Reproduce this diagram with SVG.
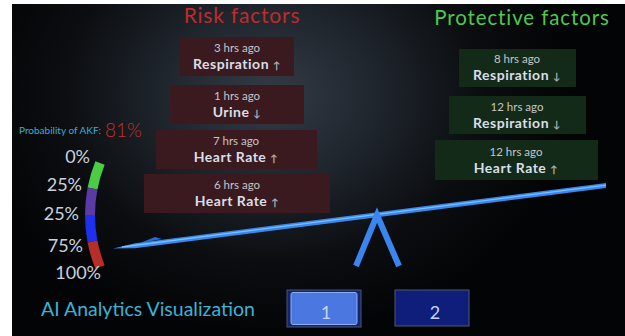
<svg xmlns="http://www.w3.org/2000/svg" width="625" height="336" viewBox="0 0 625 336">
<defs>
<radialGradient id="bg" gradientUnits="userSpaceOnUse" cx="270" cy="95" r="300" gradientTransform="translate(270 95) scale(1 0.8) translate(-270 -95)">
<stop offset="0" stop-color="#333b46"/>
<stop offset="0.35" stop-color="#20262e"/>
<stop offset="0.7" stop-color="#0b0d10"/>
<stop offset="1" stop-color="#030405"/>
</radialGradient>
<style>
.t{font-family:Lato,"Noto Sans","DejaVu Sans",sans-serif}
.rb{fill:#3a1a1e}
.pb{fill:#142a18}
.ago{font-size:11.5px;fill:#c4c6ca;text-anchor:middle}
.nm{font-size:14px;font-weight:bold;fill:#d8dfe8;text-anchor:middle;letter-spacing:0.5px}
.ar{font-size:10px;fill:#aab2ba}
.pct{font-size:18px;fill:#c8d2de;text-anchor:end}
.seg{fill:none;stroke-width:10}
.btn{font-size:18px;fill:#c6d4f4;text-anchor:middle}
</style>
</defs>
<rect x="0" y="0" width="625" height="336" fill="#ffffff"/>
<rect x="12" y="4" width="613" height="332" fill="url(#bg)"/>

<g id="title-risk"><text class="t" x="242" y="23" font-size="21" fill="#c22a2a" text-anchor="middle" letter-spacing="0.8">Risk factors</text></g>
<g id="title-protective"><text class="t" x="522" y="25" font-size="20.5" fill="#4ec94a" text-anchor="middle" letter-spacing="0.9">Protective factors</text></g>

<g id="risk-1"><rect class="rb" x="180" y="37" width="114" height="39"/>
<text class="t ago" x="237" y="52">3 hrs ago</text>
<text class="t nm" x="237" y="69">Respiration <tspan class="ar">↑</tspan></text></g>
<g id="risk-2"><rect class="rb" x="170" y="85" width="134" height="39"/>
<text class="t ago" x="237" y="100">1 hrs ago</text>
<text class="t nm" x="237" y="117">Urine <tspan class="ar">↓</tspan></text></g>
<g id="risk-3"><rect class="rb" x="156" y="130" width="161" height="39"/>
<text class="t ago" x="236" y="145">7 hrs ago</text>
<text class="t nm" x="236" y="162">Heart Rate <tspan class="ar">↑</tspan></text></g>
<g id="risk-4"><rect class="rb" x="144" y="174" width="186" height="39"/>
<text class="t ago" x="237" y="189">6 hrs ago</text>
<text class="t nm" x="237" y="206">Heart Rate <tspan class="ar">↑</tspan></text></g>

<g id="prot-1"><rect class="pb" x="459" y="49" width="117" height="38"/>
<text class="t ago" x="517" y="63">8 hrs ago</text>
<text class="t nm" x="517" y="80">Respiration <tspan class="ar">↓</tspan></text></g>
<g id="prot-2"><rect class="pb" x="449" y="96" width="137" height="38"/>
<text class="t ago" x="517" y="111">12 hrs ago</text>
<text class="t nm" x="517" y="128">Respiration <tspan class="ar">↓</tspan></text></g>
<g id="prot-3"><rect class="pb" x="435" y="140" width="163" height="40"/>
<text class="t ago" x="516" y="156">12 hrs ago</text>
<text class="t nm" x="516" y="173">Heart Rate <tspan class="ar">↑</tspan></text></g>

<g id="probability"><text class="t" x="19" y="134" font-size="10" fill="#3aaed0">Probability of AKF:</text>
<text class="t" x="105" y="137" font-size="19" font-weight="300" fill="#c4302c">81%</text></g>

<g id="gauge">
<path class="seg" stroke="#4ccb44" d="M100 163 A140 140 0 0 0 92.5 188.5"/>
<path class="seg" stroke="#5b3aa6" d="M92.5 188.5 A140 140 0 0 0 90 215"/>
<path class="seg" stroke="#1c30ee" d="M90 215 A140 140 0 0 0 92.5 241.5"/>
<path class="seg" stroke="#b52e28" d="M92.5 241.5 A140 140 0 0 0 100 267"/>
<text class="t pct" x="90" y="163">0%</text>
<text class="t pct" x="82" y="191">25%</text>
<text class="t pct" x="79" y="220">25%</text>
<text class="t pct" x="83" y="252">75%</text>
<text class="t pct" x="101" y="279">100%</text>
</g>

<g id="seesaw">
<polygon points="140,243 155,237 162,239" fill="#2a6ad8"/>
<polygon points="113,248.5 135,243.3 606,183 606,188 135,248.3" fill="#3a88ee"/>
<line x1="122" y1="247" x2="606" y2="185.2" stroke="#7cc0ff" stroke-width="1.3"/>
<path d="M356 266 L377 215 L399 266" fill="none" stroke="#3a86f0" stroke-width="6" stroke-linejoin="miter"/>
</g>

<g id="caption"><text class="t" x="41" y="316" font-size="19.5" fill="#3cb2d6">AI Analytics Visualization</text></g>

<g id="button-1">
<rect x="287" y="290" width="74" height="37" fill="#14246e" stroke="#4a5470" stroke-width="1"/>
<rect x="291" y="292.5" width="66" height="32" rx="2" fill="#4a78e0" stroke="#8eaaf0" stroke-width="1"/>
<text class="t btn" x="326" y="319">1</text>
</g>
<g id="button-2">
<rect x="395" y="290" width="74" height="36" fill="#0f1e7a" stroke="#4e5870" stroke-width="1"/>
<text class="t btn" x="435" y="319">2</text>
</g>
</svg>
